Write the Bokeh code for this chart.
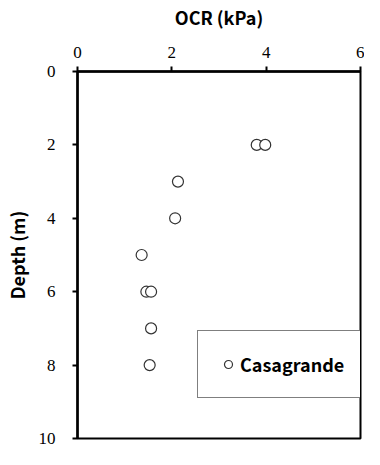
from bokeh.plotting import figure
from bokeh.models import Range1d, Legend, LegendItem, FixedTicker
from bokeh.embed import file_html
from bokeh.resources import INLINE

# Data
depth = [2, 2, 3, 4, 5, 6, 6, 7, 8]
ocr = [3.8, 3.98, 2.13, 2.07, 1.36, 1.46, 1.56, 1.56, 1.53]
series_name = "Casagrande"
x_ticks = [0, 2, 4, 6]
y_ticks = [0, 2, 4, 6, 8, 10]

p = figure(width=364, height=449, output_backend="svg", toolbar_location=None,
           x_range=Range1d(0, 6), y_range=Range1d(10, 0),
           x_axis_location="above",
           min_border_left=66, min_border_top=63, min_border_right=4, min_border_bottom=11)

r = p.scatter(ocr, depth, marker="circle", size=11, fill_color="white",
              line_color="#333333", line_width=1.2)

p.xgrid.visible = False
p.ygrid.visible = False
p.outline_line_color = "black"
p.outline_line_width = 2
p.outline_line_alpha = 1

for ax in (p.xaxis[0], p.yaxis[0]):
    ax.axis_line_width = 2.5
    ax.axis_line_color = "black"
    ax.major_tick_line_width = 2
    ax.major_tick_line_color = "black"
    ax.major_tick_out = 5
    ax.major_tick_in = 0
    ax.minor_tick_line_color = None
    ax.major_label_text_font = "Liberation Serif"
    ax.major_label_text_font_size = "17px"
    ax.major_label_text_color = "black"
    ax.axis_label_text_font = "Noto Sans CJK KR"
    ax.axis_label_text_font_style = "bold"
    ax.axis_label_text_font_size = "18px"
    ax.axis_label_text_color = "black"

p.xaxis[0].ticker = FixedTicker(ticks=x_ticks)
p.yaxis[0].ticker = FixedTicker(ticks=y_ticks)
p.xaxis[0].axis_label = "OCR (kPa)"
p.yaxis[0].axis_label = "Depth (m)"
p.xaxis[0].major_label_standoff = 9
p.xaxis[0].axis_label_standoff = 14
p.yaxis[0].major_label_standoff = 17
p.yaxis[0].axis_label_standoff = 6

legend = Legend(items=[LegendItem(label=series_name, renderers=[r])],
                location=(120, 40), padding=20, spacing=0,
                label_standoff=2, glyph_width=20, glyph_height=20,
                border_line_color="black", border_line_width=1,
                label_text_font="Noto Sans CJK KR", label_text_font_style="bold",
                label_text_font_size="18px", label_text_color="black",
                background_fill_alpha=1)
p.add_layout(legend, "center")

open("out.html", "w").write(file_html(p, INLINE))
